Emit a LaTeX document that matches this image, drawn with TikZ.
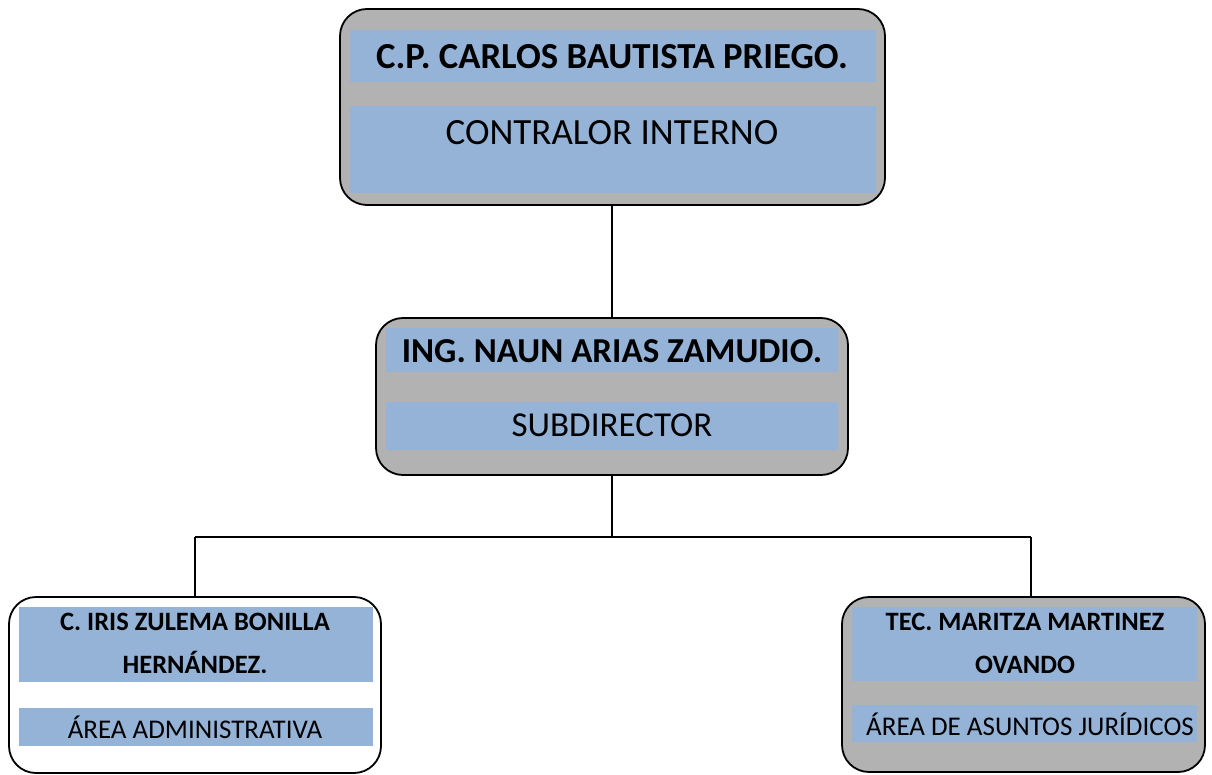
\documentclass[tikz,border=0pt]{standalone}
\usepackage{fontspec}
\setmainfont{Carlito}
\definecolor{boxgray}{RGB}{178,178,178}
\definecolor{bandblue}{RGB}{149,179,215}
\begin{document}
\begin{tikzpicture}[x=1pt,y=-1pt,
  card/.style={draw=black,line width=1.8pt,rounded corners=27pt},
  band/.style={fill=bandblue},
  conn/.style={draw=black,line width=1.3pt},
  bigname/.style={font=\fontsize{36.7}{42}\selectfont\bfseries,inner sep=0pt},
  bigrole/.style={font=\fontsize{37}{42}\selectfont,inner sep=0pt},
  midname/.style={font=\fontsize{35}{40}\selectfont\bfseries,inner sep=0pt},
  midrole/.style={font=\fontsize{35}{40}\selectfont,inner sep=0pt},
  smallname/.style={font=\fontsize{26.5}{43}\selectfont\bfseries,inner sep=0pt,align=center},
  smallrole/.style={font=\fontsize{27}{32}\selectfont,inner sep=0pt}]
\useasboundingbox (0,0) rectangle (1212,775);
% top card
\draw[card,fill=boxgray] (340,9) rectangle (885,205);
\coordinate (topS) at (612,205);
\fill[band] (350,30) rectangle (876,82);
\fill[band] (350,106) rectangle (876,193);
\node[bigname] (n1) at (612,57) {C.P. CARLOS BAUTISTA PRIEGO.};
\node[bigrole] (r1) at (612,133) {CONTRALOR INTERNO};
% middle card
\draw[card,fill=boxgray] (376,318) rectangle (848,475);
\coordinate (midN) at (612,318);
\coordinate (midS) at (612,475);
\fill[band] (386,328) rectangle (838,372);
\fill[band] (386,402) rectangle (838,450);
\node[midname] (n2) at (612,351) {ING. NAUN ARIAS ZAMUDIO.};
\node[midrole] (r2) at (612,425) {SUBDIRECTOR};
% left card
\draw[card,fill=white] (9,597) rectangle (381,773);
\coordinate (leftN) at (195,597);
\fill[band] (19,607) rectangle (373,682);
\fill[band] (19,708) rectangle (373,746);
\node[smallname] (n3) at (195,643) {C. IRIS ZULEMA BONILLA\\HERNÁNDEZ.};
\node[smallrole] (r3) at (195,727) {ÁREA ADMINISTRATIVA};
% right card
\draw[card,fill=boxgray] (842,597) rectangle (1205,772);
\coordinate (rightN) at (1031,597);
\fill[band] (852,607) rectangle (1197,681);
\fill[band] (852,705) rectangle (1197,742);
\node[smallname] (n4) at (1025,643) {TEC. MARITZA MARTINEZ\\OVANDO};
\node[smallrole] (r4) at (1030,724) {ÁREA DE ASUNTOS JURÍDICOS};
% connectors
\coordinate (junc) at (612,537);
\coordinate (jl) at (195,537);
\coordinate (jr) at (1031,537);
\draw[conn] (topS) -- (midN);
\draw[conn] (midS) -- (junc);
\draw[conn] (jl) -- (jr);
\draw[conn] (jl) -- (leftN);
\draw[conn] (jr) -- (rightN);
\end{tikzpicture}
\end{document}
